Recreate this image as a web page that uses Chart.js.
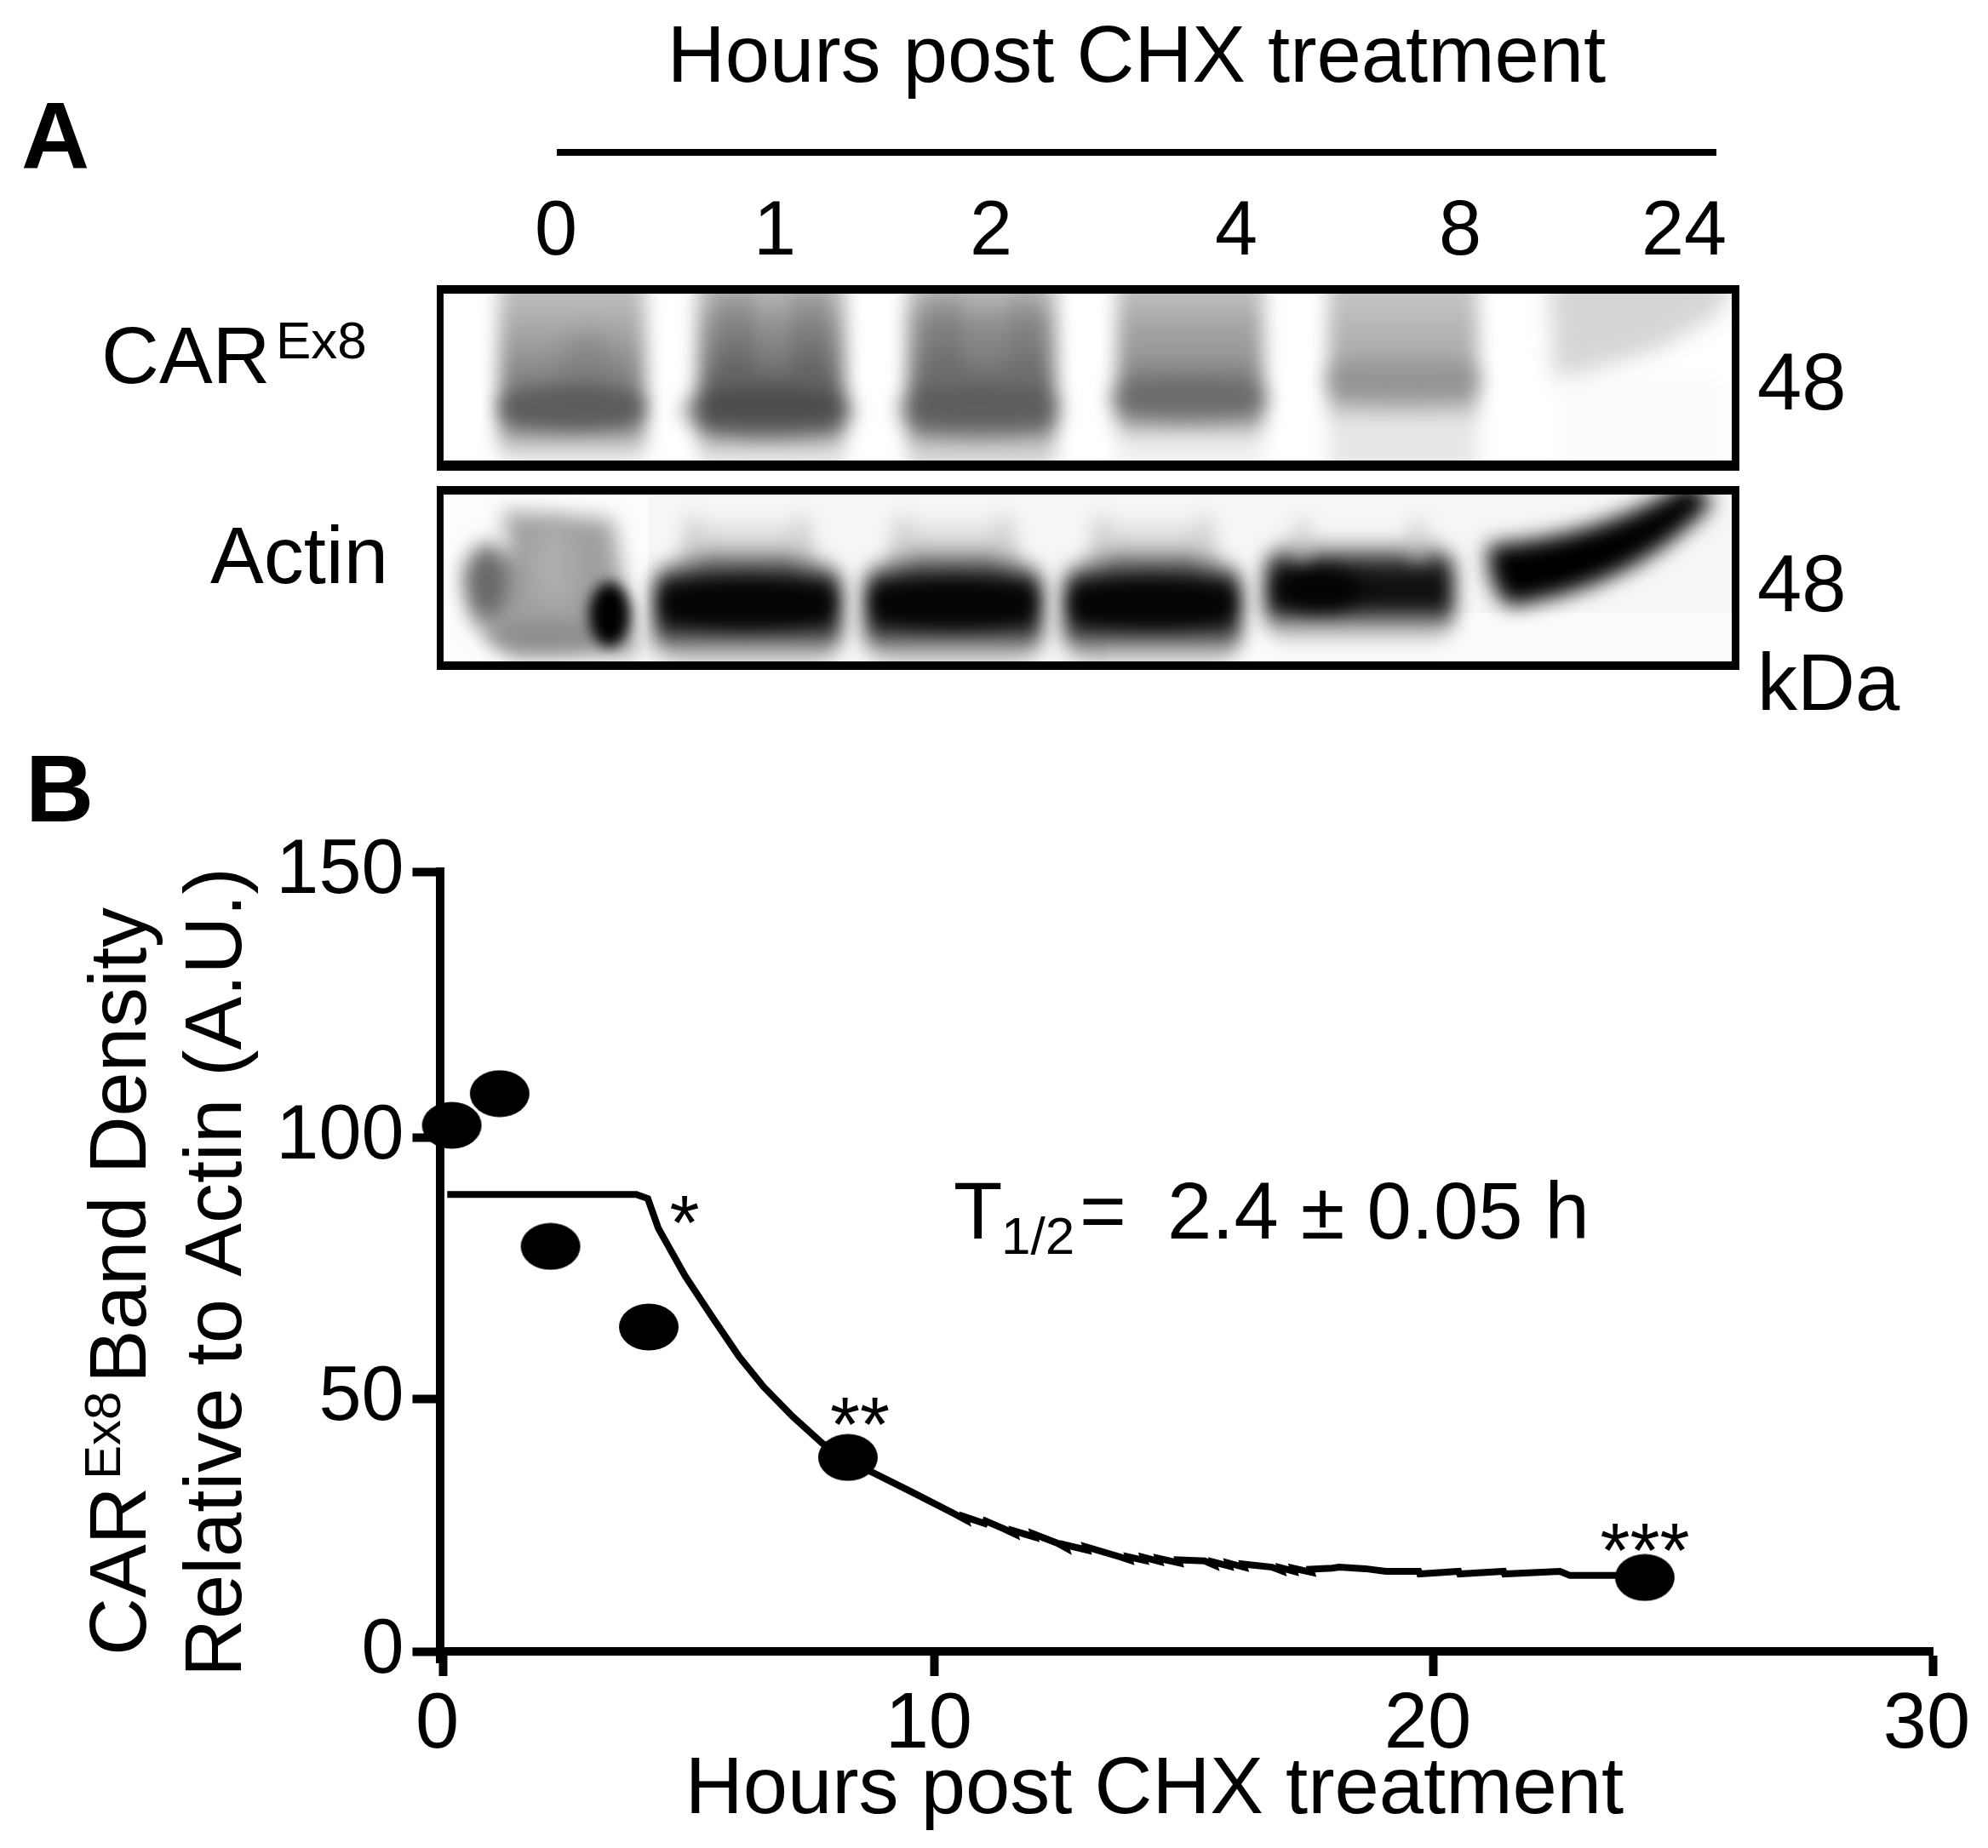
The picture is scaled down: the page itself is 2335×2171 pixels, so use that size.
<!DOCTYPE html>
<html><head><meta charset="utf-8">
<style>html,body{margin:0;padding:0;background:#fff}canvas{display:block}</style>
<script src="https://cdn.jsdelivr.net/npm/chart.js@4"></script>
</head><body>
<canvas id="c" width="2335" height="2171"></canvas>
<script>
// ---- values ----
const blotHours = ['0','1','2','4','8','24'];
const pointHours = [0.32,1.28,2.30,4.27,8.26,24.23];
const pointDensity = [101.2,107.3,77.9,62.4,37.3,14.2];
const fitHours = [0.23,4.02,4.25,4.46,5.00,5.55,6.08,6.57,7.15,7.75,8.26,8.72,9.51,10.39,10.62,10.60,11.00,11.02,11.38,11.60,11.58,12.00,11.98,12.46,12.63,12.61,13.05,13.03,13.67,13.90,13.88,14.20,14.18,14.50,14.48,14.90,14.88,15.41,15.60,15.58,15.90,15.88,16.20,16.18,16.76,16.95,16.93,17.20,17.18,17.55,17.53,17.97,18.10,18.63,19.04,19.70,19.72,20.50,20.52,21.40,21.42,22.53,22.73,23.74,24.23];
const fitDensity = [87.9,87.9,87.1,81.4,72.2,64.2,56.7,50.9,45.2,40.0,37.3,34.6,30.8,26.5,25.3,25.9,24.6,25.1,23.6,22.6,23.2,22.0,22.6,20.8,19.9,20.5,19.5,20.1,18.3,17.6,18.2,17.5,18.1,17.3,17.9,17.0,17.6,17.4,16.6,17.2,16.4,17.0,16.2,16.8,16.2,15.5,16.1,15.4,16.0,15.2,15.8,16.0,16.2,15.9,15.4,15.4,14.9,15.4,14.9,15.4,14.9,15.4,14.6,14.6,14.6];
const xTickValues = [0.15,10,20,30];
const xTickLabels = ['0','10','20','30'];
const yTickValues = [0,48.6,98.9,150];
const yTickLabels = ['0','50','100','150'];
const sideMarkers = ['48','48','kDa'];
const starNotes = ['*','**','***'];
const titleText = 'Hours post CHX treatment';

const FONT = '"Liberation Sans", Arial, sans-serif';
function txt(ctx,s,x,y,size,o={}){
  ctx.save();
  ctx.font=(o.bold?'bold ':'')+size+'px '+FONT;
  ctx.fillStyle='#000';ctx.textAlign=o.align||'left';ctx.textBaseline='alphabetic';
  ctx.fillText(s,x,y);
  ctx.restore();
}
function hex(g){return 'rgb('+g+','+g+','+g+')';}
function lane(ctx,x0,x1,stops,blur,r){
  const y0=stops[0][0],y1=stops[stops.length-1][0];
  const g=ctx.createLinearGradient(0,y0,0,y1);
  stops.forEach(s=>{g.addColorStop((s[0]-y0)/(y1-y0),'rgba(0,0,0,'+(1-s[1]/255).toFixed(3)+')');});
  ctx.save();ctx.filter='blur('+blur+'px)';ctx.fillStyle=g;
  ctx.beginPath();ctx.roundRect(x0,y0,x1-x0,y1-y0,r||0);ctx.fill();ctx.restore();
}
function blob(ctx,cx,cy,rx,ry,gray,blur,alpha){
  ctx.save();ctx.filter='blur('+blur+'px)';ctx.globalAlpha=alpha==null?1:alpha;ctx.fillStyle=hex(gray);
  ctx.beginPath();ctx.ellipse(cx,cy,rx,ry,0,0,Math.PI*2);ctx.fill();ctx.restore();
}
function poly(ctx,pts,gray,blur,alpha){
  ctx.save();ctx.filter='blur('+blur+'px)';ctx.globalAlpha=alpha==null?1:alpha;ctx.fillStyle=hex(gray);
  ctx.beginPath();pts.forEach((p,i)=>i?ctx.lineTo(p[0],p[1]):ctx.moveTo(p[0],p[1]));ctx.closePath();ctx.fill();ctx.restore();
}
function streak(ctx,x,y0,y1,w,alpha){
  ctx.save();ctx.filter='blur(8px)';ctx.fillStyle='rgba(0,0,0,'+alpha+')';ctx.fillRect(x,y0,w,y1-y0);ctx.restore();
}
function drawBlots(ctx){
  // upper blot
  ctx.save();ctx.beginPath();ctx.rect(521,345,1513,196);ctx.clip();
  ctx.fillStyle='#fff';ctx.fillRect(521,345,1513,196);
  lane(ctx,586,758,[[310,196],[345,190],[400,160],[440,135],[470,118],[490,112],[508,150],[522,200],[538,235],[556,252]],11);
  blob(ctx,690,440,34,50,110,12,.35);
  blob(ctx,672,478,88,26,76,10,.6);
  lane(ctx,820,992,[[310,190],[345,180],[375,150],[420,122],[460,100],[480,90],[500,125],[515,180],[530,222],[555,238]],11);
  streak(ctx,845,345,445,40,.1);streak(ctx,930,345,445,40,.1);
  blob(ctx,902,482,100,30,64,12,.6);
  lane(ctx,1066,1240,[[310,196],[345,186],[375,146],[420,126],[470,100],[490,104],[505,136],[520,196],[555,232]],11);
  streak(ctx,1090,345,440,40,.09);streak(ctx,1185,345,440,34,.07);
  blob(ctx,1150,480,96,30,84,12,.5);
  lane(ctx,1312,1484,[[310,200],[345,190],[380,166],[420,150],[445,130],[470,112],[490,148],[505,204],[520,238],[555,244]],11);
  blob(ctx,1396,468,94,24,96,12,.55);
  lane(ctx,1560,1736,[[310,205],[345,196],[390,180],[420,172],[440,150],[455,146],[470,172],[485,210],[500,232],[555,230]],11);
  blob(ctx,1648,446,94,24,146,11,.45);
  poly(ctx,[[1818,320],[2040,320],[2018,370],[1950,410],[1880,432],[1825,445]],214,13);
  lane(ctx,1835,2020,[[445,251],[555,251]],12);
  ctx.restore();
  // lower blot
  ctx.save();ctx.beginPath();ctx.rect(521,581,1513,196);ctx.clip();
  ctx.fillStyle='#f6f6f6';ctx.fillRect(521,581,1513,196);
  ctx.fillStyle='#fbfbfb';ctx.fillRect(1300,720,734,60);
  // lane 0
  ctx.save();ctx.fillStyle='#fdfdfd';ctx.fillRect(521,581,240,196);ctx.restore();
  poly(ctx,[[548,665],[600,650],[590,600],[720,610],[735,700],[752,770],[600,772],[555,730]],150,12,.9);
  blob(ctx,572,682,24,44,96,12,.9);
  blob(ctx,650,665,26,52,176,12,.75);
  blob(ctx,640,748,70,18,130,10,.6);
  blob(ctx,716,722,24,38,0,8);
  // lanes 1-3
  [[768,988],[1016,1224],[1250,1458]].forEach(r=>{
    const cx=(r[0]+r[1])/2, hw=(r[1]-r[0])/2;
    lane(ctx,cx-hw*.62,cx+hw*.62,[[612,246],[635,226],[652,190],[680,110]],13);
    blob(ctx,cx-hw*.58,640,13,36,195,10,.5);
    blob(ctx,cx+hw*.58,640,13,36,195,10,.5);
    lane(ctx,r[0],r[1],[[652,246],[666,160],[680,44],[696,14],[722,8],[736,36],[750,100],[764,180],[784,246]],11,40);
    blob(ctx,cx,708,hw*.92,28,0,10,.7);
  });
  // lane 4
  lane(ctx,1486,1708,[[634,246],[650,140],[666,30],[700,8],[714,30],[726,110],[744,215],[760,246]],11,36);
  blob(ctx,1550,692,48,26,0,10,.8);
  blob(ctx,1530,635,13,28,195,10,.5);
  blob(ctx,1665,635,13,28,195,10,.5);
  // lane 5
  ctx.save();ctx.filter='blur(12px)';ctx.fillStyle='#000';
  ctx.beginPath();ctx.moveTo(1748,640);ctx.quadraticCurveTo(1880,632,1985,565);ctx.lineTo(2012,590);
  ctx.quadraticCurveTo(1920,690,1772,712);ctx.quadraticCurveTo(1746,690,1748,640);ctx.closePath();ctx.fill();ctx.restore();
  ctx.restore();
  // frames
  ctx.fillStyle='#000';
  [[335,553,345,541],[571,787,581,777]].forEach(b=>{
    ctx.fillRect(513,b[0],1530,b[2]-b[0]);
    ctx.fillRect(513,b[3],1530,b[1]-b[3]);
    ctx.fillRect(513,b[0],8,b[1]-b[0]);
    ctx.fillRect(2034,b[0],9,b[1]-b[0]);
  });
}
const annotations={
  id:'annotations',
  beforeDatasetsDraw(chart){
    const ctx=chart.ctx;
    drawBlots(ctx);
    // panel A text
    txt(ctx,'A',25,198,111,{bold:true});
    txt(ctx,'B',30,965,111,{bold:true});
    txt(ctx,titleText,1335,96,94,{align:'center'});
    ctx.fillStyle='#000';ctx.fillRect(654,175,1362,8);
    const laneX=[653,910,1164,1452,1715,1978];
    blotHours.forEach((h,i)=>txt(ctx,h,laneX[i],299,90,{align:'center'}));
    txt(ctx,'CAR',119,450,94);
    txt(ctx,'Ex8',324,421,62);
    txt(ctx,'Actin',247,685,94);
    txt(ctx,sideMarkers[0],2064,481,94);
    txt(ctx,sideMarkers[1],2064,718,94);
    txt(ctx,sideMarkers[2],2064,834,94);
    // panel B text
    txt(ctx,titleText,1356,2130,94,{align:'center'});
    txt(ctx,'T',1120,1455,94);
    txt(ctx,'1/2',1176,1473,62);
    txt(ctx,'=',1268,1455,94);
    txt(ctx,'2.4 ± 0.05 h',1371,1455,94);
    txt(ctx,starNotes[0],804,1468,90,{align:'center'});
    txt(ctx,starNotes[1],1010,1705,90,{align:'center'});
    txt(ctx,starNotes[2],1932,1853,90,{align:'center'});
    // rotated y title
    ctx.save();ctx.translate(171,1945);ctx.rotate(-Math.PI/2);
    txt(ctx,'CAR',0,0,94);
    txt(ctx,'Ex8',207,-30,60);
    txt(ctx,'Band Density',320,0,94);
    ctx.restore();
    ctx.save();ctx.translate(283,1970);ctx.rotate(-Math.PI/2);
    txt(ctx,'Relative to Actin (A.U.)',0,0,94);
    ctx.restore();
    // y spine runs slightly below the x axis
    ctx.fillStyle='#000';ctx.fillRect(512,1936,9,18);
  }
};
// oval marker used by the data points
const oval=document.createElement('canvas');oval.width=72;oval.height=56;
(function(){const o=oval.getContext('2d');o.fillStyle='#000';o.beginPath();o.ellipse(36,28,35,27.5,0,0,Math.PI*2);o.fill();})();

new Chart(document.getElementById('c'),{
  type:'scatter',
  data:{datasets:[
    {label:'Fit',data:fitHours.map((x,i)=>({x,y:fitDensity[i]})),showLine:true,borderColor:'#000',borderWidth:8,pointRadius:0,tension:0,fill:false,clip:false,order:2,borderJoinStyle:'miter'},
    {label:'CAR Ex8',data:pointHours.map((x,i)=>({x,y:pointDensity[i]})),showLine:false,pointStyle:oval,pointRadius:28,backgroundColor:'#000',borderColor:'#000',clip:false,order:1}
  ]},
  plugins:[annotations],
  options:{
    responsive:false,animation:false,devicePixelRatio:1,
    layout:{padding:{left:0,top:1024,right:65,bottom:0}},
    plugins:{legend:{display:false},tooltip:{enabled:false},title:{display:false}},
    scales:{
      x:{type:'linear',min:0.08,max:30,
        afterBuildTicks:s=>{s.ticks=xTickValues.map(v=>({value:v}));},
        afterFit:s=>{s.height=231;},
        border:{display:true,color:'#000',width:10},
        grid:{drawOnChartArea:false,drawTicks:true,tickLength:29,tickWidth:10,tickColor:'#000'},
        ticks:{autoSkip:false,maxRotation:0,color:'#000',padding:3,labelOffset:-7,font:{family:FONT,size:92},callback:(v,i)=>xTickLabels[i]}
      },
      y:{type:'linear',min:0,max:150,
        afterBuildTicks:s=>{s.ticks=yTickValues.map(v=>({value:v}));},
        afterFit:s=>{s.width=516.5;},
        border:{display:true,color:'#000',width:10},
        grid:{drawOnChartArea:false,drawTicks:true,tickLength:32,tickWidth:10,tickColor:'#000'},
        ticks:{autoSkip:false,color:'#000',padding:10,font:{family:FONT,size:90},callback:(v,i)=>yTickLabels[i]}
      }
    }
  }
});
</script>
</body></html>
